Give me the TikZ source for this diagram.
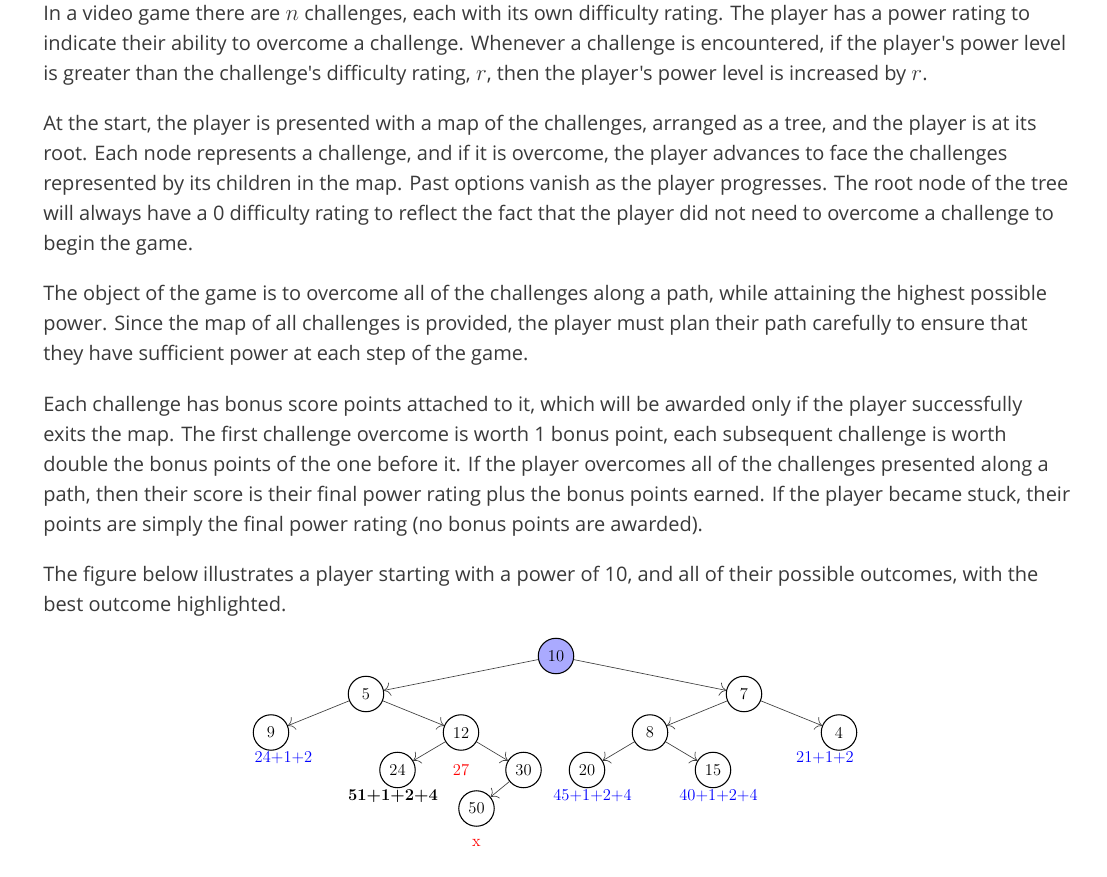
\documentclass[tikz,border=0pt]{standalone}
\usepackage{fontspec}
\newfontfamily\pagefont{Open Sans}[Ligatures=TeXOff]
\usepackage{xcolor}
\usetikzlibrary{arrows.meta,positioning}
\definecolor{pagetext}{HTML}{3A3A3A}
\definecolor{rootfill}{HTML}{AAAAFF}
\newcommand\mvar[1]{{\fontsize{18.5}{22.5}\selectfont$#1$}}

\begin{document}
\begin{tikzpicture}[x=0.75pt,y=-0.75pt,
  para/.style={anchor=base west,align=left,inner sep=0pt,text=pagetext,font=\pagefont\fontsize{15}{22.5}\selectfont},
  ch/.style={draw,circle,line width=0.8pt,minimum size=26.6pt,inner sep=0pt,font=\fontsize{12.4}{14}\selectfont},
  lb/.style={inner sep=0pt,font=\fontsize{12.4}{14}\selectfont},
  ar/.style={-{To[length=1.7mm]},draw=black!75,line width=0.5pt}]
\useasboundingbox[fill=white] (0,0) rectangle (1107,877);
% text above the tree (placed by the baseline of the last line)
\node[para] (p1) at (43,81) {In a video game there are \mvar{n} challenges, each with its own difficulty rating. The player has a power rating to\\
indicate their ability to overcome a challenge. Whenever a challenge is encountered, if the player's power level\\
is greater than the challenge's difficulty rating, \mvar{r}, then the player's power level is increased by \mvar{r}.};
\node[para] (p2) at (43,251) {At the start, the player is presented with a map of the challenges, arranged as a tree, and the player is at its\\
root. Each node represents a challenge, and if it is overcome, the player advances to face the challenges\\
represented by its children in the map. Past options vanish as the player progresses. The root node of the tree\\
will always have a 0 difficulty rating to reflect the fact that the player did not need to overcome a challenge to\\
begin the game.};
\node[para] (p3) at (43,361) {The object of the game is to overcome all of the challenges along a path, while attaining the highest possible\\
power. Since the map of all challenges is provided, the player must plan their path carefully to ensure that\\
they have sufficient power at each step of the game.};
\node[para] (p4) at (43,531) {Each challenge has bonus score points attached to it, which will be awarded only if the player successfully\\
exits the map. The first challenge overcome is worth 1 bonus point, each subsequent challenge is worth\\
double the bonus points of the one before it. If the player overcomes all of the challenges presented along a\\
path, then their score is their final power rating plus the bonus points earned. If the player became stuck, their\\
points are simply the final power rating (no bonus points are awarded).};
\node[para] (p5) at (43,611) {The figure below illustrates a player starting with a power of 10, and all of their possible outcomes, with the\\
best outcome highlighted.};
% the tree
\node[ch,fill=rootfill] (n10) at (556,656) {10};
\node[ch] (n5)  at (366,694)   {5};
\node[ch] (n7)  at (744,694)   {7};
\node[ch] (n9)  at (271,732.5) {9};
\node[ch] (n12) at (461,732.5) {12};
\node[ch] (n8)  at (650,732.5) {8};
\node[ch] (n4)  at (839,732.5) {4};
\node[ch] (n24) at (397.5,770) {24};
\node[ch] (n30) at (523.5,770) {30};
\node[ch] (n20) at (587,770)   {20};
\node[ch] (n15) at (713,770)   {15};
\node[ch] (n50) at (476.5,808.5) {50};
% outcomes
\node[lb,text=blue] (s9)  at (283.5,758) {24+1+2};
\node[lb,text=red]  (s12) at (461,770)   {27};
\node[lb,font=\fontsize{12.4}{14}\selectfont\bfseries] (s24) at (393,796) {51+1+2+4};
\node[lb,text=red]  (s50) at (476.5,843) {x};
\node[lb,text=blue] (s20) at (592.5,796) {45+1+2+4};
\node[lb,text=blue] (s15) at (718.5,796) {40+1+2+4};
\node[lb,text=blue] (s4)  at (825,758)   {21+1+2};
\foreach \p/\c in {n10/n5,n10/n7,n5/n9,n5/n12,n12/n24,n12/n30,n30/n50,n7/n8,n7/n4,n8/n20,n8/n15}
  \draw[ar] (\p) -- (\c);
\end{tikzpicture}
\end{document}
